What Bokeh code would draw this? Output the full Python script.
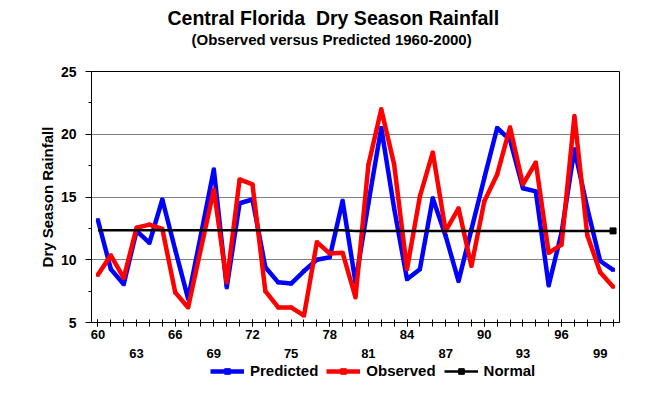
from bokeh.plotting import figure
from bokeh.layouts import column
from bokeh.models import Title, LinearAxis, FixedTicker, Legend, LegendItem, Range1d, ColumnDataSource
from bokeh.embed import file_html
from bokeh.resources import INLINE

years = list(range(60, 101))
predicted = [13.15, 9.25, 8.05, 12.3, 11.35, 14.8, 10.8, 6.9, 12.0, 17.2,
             7.8, 14.5, 14.8, 9.4, 8.2, 8.1, 9.1, 10.0, 10.2, 14.7,
             8.2, 14.5, 20.5, 14.1, 8.45, 9.25, 14.9, 11.9, 8.3, 12.4,
             16.5, 20.5, 19.55, 15.7, 15.45, 7.95, 12.15, 18.8, 14.1, 9.9,
             9.2]
observed = [8.8, 10.35, 8.55, 12.55, 12.8, 12.45, 7.4, 6.2, 10.9, 15.6,
            8.2, 16.4, 16.0, 7.5, 6.2, 6.2, 5.55, 11.4, 10.5, 10.55,
            7.0, 17.55, 22.0, 17.6, 9.25, 15.05, 18.55, 12.3, 14.1, 9.5,
            14.65, 16.8, 20.55, 16.0, 17.75, 10.55, 11.2, 21.45, 11.95, 9.0,
            7.85]
normal = [12.35, 12.35, 12.35, 12.35, 12.35, 12.35, 12.35, 12.35, 12.35, 12.35,
          12.35, 12.35, 12.35, 12.35, 12.35, 12.35, 12.35, 12.35, 12.35, 12.35,
          12.3, 12.3, 12.3, 12.3, 12.3, 12.3, 12.3, 12.3, 12.3, 12.3,
          12.3, 12.3, 12.3, 12.3, 12.3, 12.3, 12.3, 12.3, 12.3, 12.3,
          12.3]
row1_ticks = [60, 66, 72, 78, 84, 90, 96]
row2_ticks = [63, 69, 75, 81, 87, 93, 99]
y_major = [5, 10, 15, 20, 25]
y_minor = [7.5, 12.5, 17.5, 22.5]
series_names = ["Predicted", "Observed", "Normal"]

FONT = "Liberation Sans"
BLUE, RED = "#0000FF", "#FF0000"

src = ColumnDataSource(dict(year=years, pred=predicted, obs=observed, norm=normal))
end_src = ColumnDataSource(dict(year=years[-1:], norm=normal[-1:]))

p = figure(width=642, height=360, output_backend="svg", toolbar_location=None,
           x_range=Range1d(59.5, 100.5), y_range=Range1d(5, 25),
           min_border_left=91, min_border_right=23, min_border_top=71, min_border_bottom=37,
           background_fill_color="white", border_fill_color="white")
p.outline_line_color = "black"
p.outline_line_width = 1
p.xgrid.grid_line_color = None
p.ygrid.ticker = FixedTicker(ticks=[10, 15, 20])
p.ygrid.grid_line_color = "#808080"
p.ygrid.grid_line_width = 1

# x axis (row 1)
xa = p.xaxis[0]
xa.ticker = FixedTicker(ticks=row1_ticks, minor_ticks=years)
xa.axis_line_color = "black"
xa.major_tick_in = 3
xa.major_tick_out = 4
xa.minor_tick_in = 3
xa.minor_tick_out = 4
xa.major_tick_line_color = "black"
xa.minor_tick_line_color = "black"
xa.major_label_text_font = FONT
xa.major_label_text_font_style = "bold"
xa.major_label_text_font_size = "13px"
xa.major_label_text_color = "black"
xa.major_label_standoff = 3

# x axis (row 2)
xa2 = LinearAxis(ticker=FixedTicker(ticks=row2_ticks, minor_ticks=[]),
                 axis_line_color=None, major_tick_line_color=None, minor_tick_line_color=None,
                 major_tick_in=0, major_tick_out=0, minor_tick_in=0, minor_tick_out=0,
                 major_label_text_font=FONT, major_label_text_font_style="bold",
                 major_label_text_font_size="13px", major_label_text_color="black",
                 major_label_standoff=7)
p.add_layout(xa2, "below")

# y axis
ya = p.yaxis[0]
ya.ticker = FixedTicker(ticks=y_major, minor_ticks=y_minor)
ya.axis_line_color = "black"
ya.major_tick_in = 0
ya.major_tick_out = 6
ya.minor_tick_in = 0
ya.minor_tick_out = 3
ya.major_tick_line_color = "black"
ya.minor_tick_line_color = "black"
ya.major_label_text_font = FONT
ya.major_label_text_font_style = "bold"
ya.major_label_text_font_size = "14px"
ya.major_label_text_color = "black"
ya.major_label_standoff = 9
ya.axis_label = "Dry Season Rainfall"
ya.axis_label_text_font = FONT
ya.axis_label_text_font_style = "bold"
ya.axis_label_text_font_size = "15px"
ya.axis_label_text_color = "black"
ya.axis_label_standoff = 2

# lines
p.line("year", "pred", source=src, line_color=BLUE, line_width=4.5)
p.scatter("year", "pred", source=src, marker="square", size=3, color=BLUE)
p.line("year", "obs", source=src, line_color=RED, line_width=4.5)
p.scatter("year", "obs", source=src, marker="square", size=3, color=RED)
p.line("year", "norm", source=src, line_color="black", line_width=2.5)
p.scatter("year", "norm", source=end_src, marker="square", size=6, color="black")

# titles (spacer closest to the frame, then subtitle, then main title)
spacer = Title(text=" ", text_font_size="1px", standoff=21)
p.add_layout(spacer, "above")
sub = Title(text="(Observed versus Predicted 1960-2000)", align="left",
            text_font=FONT, text_font_style="bold", text_font_size="15px",
            text_color="black", offset=100, standoff=0)
p.add_layout(sub, "above")
main = Title(text="Central Florida\u00a0\u00a0Dry Season Rainfall", align="left",
             text_font=FONT, text_font_style="bold", text_font_size="19.5px",
             text_color="black", offset=76, standoff=0)
p.add_layout(main, "above")

# legend strip below the chart (its frame is aligned with the chart's frame)
lg = figure(width=642, height=19, output_backend="svg", toolbar_location=None,
            x_range=Range1d(0, 1), y_range=Range1d(0, 1),
            x_axis_location=None, y_axis_location=None,
            min_border_left=0, min_border_right=0, min_border_top=0, min_border_bottom=0,
            background_fill_color="white", border_fill_color="white")
lg.outline_line_color = None
lg.grid.grid_line_color = None
k1 = lg.line("year", "pred", source=src, line_color=BLUE, line_width=4.5)
k2 = lg.scatter("year", "pred", source=src, marker="square", size=3, color=BLUE)
k3 = lg.line("year", "obs", source=src, line_color=RED, line_width=4.5)
k4 = lg.scatter("year", "obs", source=src, marker="square", size=3, color=RED)
k5 = lg.line("year", "norm", source=src, line_color="black", line_width=2.5)
k6 = lg.scatter("year", "norm", source=end_src, marker="square", size=5, color="black")
items = [LegendItem(label=series_names[0], renderers=[k1, k2]),
         LegendItem(label=series_names[1], renderers=[k3, k4]),
         LegendItem(label=series_names[2], renderers=[k5, k6])]
legend = Legend(items=items, orientation="horizontal", location=(119, 0),
                label_text_font=FONT, label_text_font_style="bold",
                label_text_font_size="15px", label_text_color="black",
                glyph_width=34, glyph_height=14, label_height=14,
                label_standoff=6, spacing=8,
                padding=0, margin=0, border_line_color=None,
                background_fill_alpha=0)
lg.add_layout(legend, "center")

open("out.html", "w").write(file_html(column(p, lg, spacing=0), INLINE))
